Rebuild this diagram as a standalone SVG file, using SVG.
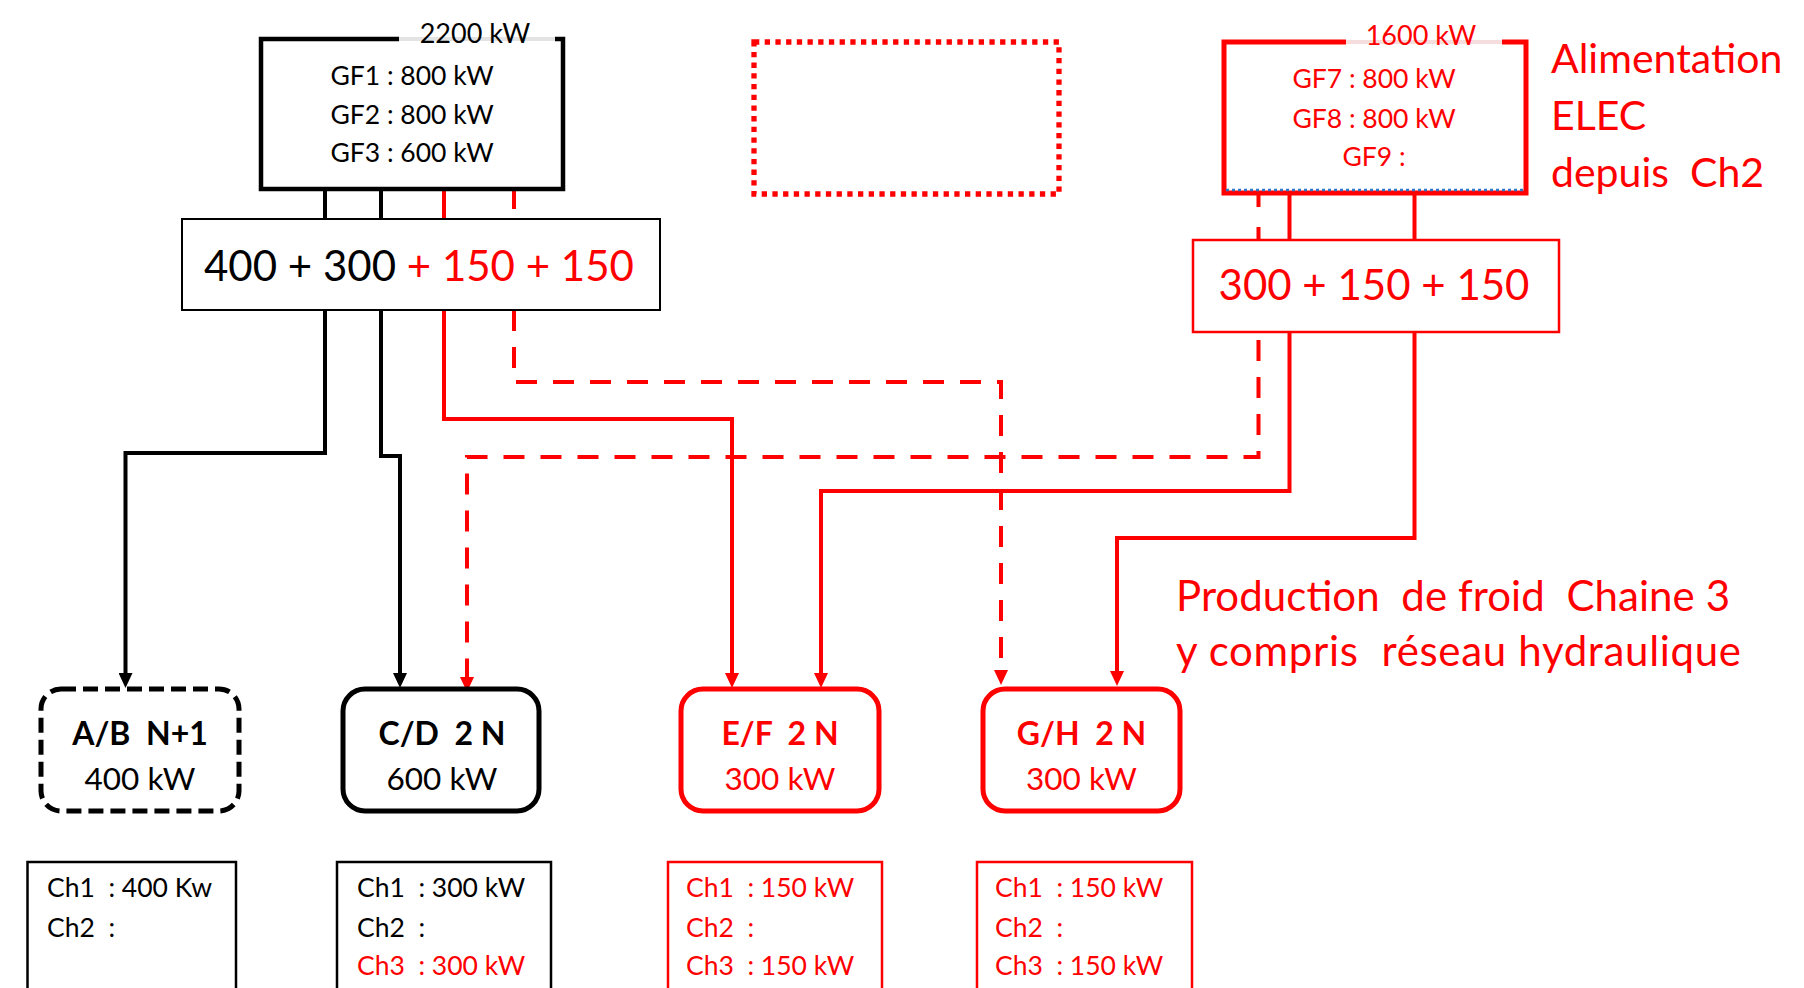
<svg xmlns="http://www.w3.org/2000/svg" width="1804" height="988" viewBox="0 0 1804 988">
<style>
text { font-family: Lato, "Liberation Sans", sans-serif; }
.k { fill: #000000; }
.r { fill: #ff0000; }
.b { font-weight: bold; }
.ln { fill: none; stroke-linejoin: miter; }
.lk { stroke: #000000; stroke-width: 4; }
.lr { stroke: #ff0000; stroke-width: 4; }
.dash { stroke-dasharray: 21 16; }
</style>
<defs>
<marker id="ak" viewBox="0 0 15 14" refX="1" refY="7" markerWidth="15" markerHeight="14" markerUnits="userSpaceOnUse" orient="auto">
<path d="M0,0 L15,7 L0,14 z" fill="#000000"/>
</marker>
<marker id="ar" viewBox="0 0 15 14" refX="1" refY="7" markerWidth="15" markerHeight="14" markerUnits="userSpaceOnUse" orient="auto">
<path d="M0,0 L15,7 L0,14 z" fill="#ff0000"/>
</marker>
</defs>
<rect width="1804" height="988" fill="#ffffff"/>

<g id="connectors">
<line class="ln lk" x1="325" y1="189" x2="325" y2="219"/>
<line class="ln lk" x1="381" y1="189" x2="381" y2="219"/>
<line class="ln lr" x1="444" y1="189" x2="444" y2="219"/>
<line class="ln lr" x1="514" y1="189" x2="514" y2="209"/>
<path class="ln lk" d="M325,310 V453 H125.5 V674" marker-end="url(#ak)"/>
<path class="ln lk" d="M381,310 V456 H400 V674" marker-end="url(#ak)"/>
<path class="ln lr" d="M444,310 V419 H732 V674" marker-end="url(#ar)"/>
<path class="ln lr dash" d="M514,310 V382 H1001 V671" marker-end="url(#ar)"/>
<path class="ln lr" d="M1258.5,193 V207 M1258.5,227 V240"/>
<line class="ln lr" x1="1289.5" y1="193" x2="1289.5" y2="240"/>
<line class="ln lr" x1="1414.5" y1="193" x2="1414.5" y2="240"/>
<path class="ln lr dash" d="M1258.5,340 V457 H467 V678" marker-end="url(#ar)"/>
<path class="ln lr" d="M1289.5,332 V491 H821 V674" marker-end="url(#ar)"/>
<path class="ln lr" d="M1414.5,332 V538 H1117 V672" marker-end="url(#ar)"/>
</g>

<g id="gf-left">
<line x1="399" y1="39" x2="555" y2="39" stroke="#e3e3e3" stroke-width="4"/>
<path d="M399,39 H261 V189 H563 V39 H555" fill="none" stroke="#000000" stroke-width="4.5"/>
<text class="k" x="475" y="43" font-size="27" text-anchor="middle">2200 kW</text>
<text class="k" x="412" y="85" font-size="26.5" text-anchor="middle">GF1 : 800 kW</text>
<text class="k" x="412" y="124" font-size="26.5" text-anchor="middle">GF2 : 800 kW</text>
<text class="k" x="412" y="162" font-size="26.5" text-anchor="middle">GF3 : 600 kW</text>
</g>

<g id="split-left">
<rect x="182" y="219" width="478" height="91" fill="#ffffff" stroke="#000000" stroke-width="2"/>
<text x="204" y="281" font-size="42"><tspan class="k">400 + 300</tspan><tspan class="r"> + 150 + 150</tspan></text>
</g>

<g id="placeholder">
<rect x="754" y="42" width="305" height="152" fill="none" stroke="#ff0000" stroke-width="5.3" stroke-dasharray="5.3 5.4"/>
</g>

<g id="gf-right">
<line x1="1346" y1="42" x2="1502" y2="42" stroke="#f7dede" stroke-width="4"/>
<path d="M1346,42 H1224 V193 H1526 V42 H1502" fill="none" stroke="#ff0000" stroke-width="5"/>
<line x1="1226" y1="190" x2="1524" y2="190" stroke="#2f75c8" stroke-width="2.5" stroke-dasharray="3 3"/>
<text class="r" x="1421" y="45" font-size="27" text-anchor="middle">1600 kW</text>
<text class="r" x="1374" y="88" font-size="26.5" text-anchor="middle">GF7 : 800 kW</text>
<text class="r" x="1374" y="128" font-size="26.5" text-anchor="middle">GF8 : 800 kW</text>
<text class="r" x="1374" y="166" font-size="26.5" text-anchor="middle">GF9 :</text>
</g>

<g id="split-right">
<rect x="1193" y="240" width="366" height="92" fill="#ffffff" stroke="#ff0000" stroke-width="2.5"/>
<text class="r" x="1374" y="300" font-size="42" text-anchor="middle">300 + 150 + 150</text>
</g>

<g id="label-alim">
<text class="r" x="1551" y="73" font-size="41">Alimentation</text>
<text class="r" x="1551" y="130" font-size="41">ELEC</text>
<text class="r" x="1551" y="187" font-size="41" xml:space="preserve">depuis  Ch2</text>
</g>

<g id="label-prod">
<text class="r" x="1176" y="611" font-size="42" textLength="554" lengthAdjust="spacing" xml:space="preserve">Production  de froid  Chaine 3</text>
<text class="r" x="1176" y="666" font-size="42" textLength="565" lengthAdjust="spacing" xml:space="preserve">y compris  réseau hydraulique</text>
</g>

<g id="node-ab">
<rect x="41" y="689" width="198" height="122" rx="20" fill="#ffffff" stroke="#000000" stroke-width="5" stroke-dasharray="15 7"/>
<text class="k b" x="140" y="745" font-size="32" text-anchor="middle" xml:space="preserve">A/B  N+1</text>
<text class="k" x="140" y="790" font-size="31.5" text-anchor="middle">400 kW</text>
</g>

<g id="node-cd">
<rect x="343" y="689" width="196" height="122" rx="22" fill="#ffffff" stroke="#000000" stroke-width="5"/>
<text class="k b" x="442" y="745" font-size="32" text-anchor="middle" xml:space="preserve">C/D  2 N</text>
<text class="k" x="442" y="790" font-size="31.5" text-anchor="middle">600 kW</text>
</g>

<g id="node-ef">
<rect x="681" y="689" width="198" height="122" rx="22" fill="#ffffff" stroke="#ff0000" stroke-width="5"/>
<text class="r b" x="780" y="745" font-size="32" text-anchor="middle" xml:space="preserve">E/F  2 N</text>
<text class="r" x="780" y="790" font-size="31.5" text-anchor="middle">300 kW</text>
</g>

<g id="node-gh">
<rect x="983" y="689" width="197" height="122" rx="22" fill="#ffffff" stroke="#ff0000" stroke-width="5"/>
<text class="r b" x="1081.5" y="745" font-size="32" text-anchor="middle" xml:space="preserve">G/H  2 N</text>
<text class="r" x="1081.5" y="790" font-size="31.5" text-anchor="middle">300 kW</text>
</g>

<g id="info-ab">
<rect x="27.5" y="862" width="208.5" height="140" fill="#ffffff" stroke="#000000" stroke-width="2.5"/>
<text class="k" x="47" y="897" font-size="26.5" xml:space="preserve">Ch1  : 400 Kw</text>
<text class="k" x="47" y="937" font-size="26.5" xml:space="preserve">Ch2  :</text>
</g>

<g id="info-cd">
<rect x="337" y="862" width="214" height="140" fill="#ffffff" stroke="#000000" stroke-width="2.5"/>
<text class="k" x="357" y="897" font-size="26.5" xml:space="preserve">Ch1  : 300 kW</text>
<text class="k" x="357" y="937" font-size="26.5" xml:space="preserve">Ch2  :</text>
<text class="r" x="357" y="975" font-size="26.5" xml:space="preserve">Ch3  : 300 kW</text>
</g>

<g id="info-ef">
<rect x="668" y="862" width="214" height="140" fill="#ffffff" stroke="#ff0000" stroke-width="2.5"/>
<text class="r" x="686" y="897" font-size="26.5" xml:space="preserve">Ch1  : 150 kW</text>
<text class="r" x="686" y="937" font-size="26.5" xml:space="preserve">Ch2  :</text>
<text class="r" x="686" y="975" font-size="26.5" xml:space="preserve">Ch3  : 150 kW</text>
</g>

<g id="info-gh">
<rect x="977" y="862" width="215" height="140" fill="#ffffff" stroke="#ff0000" stroke-width="2.5"/>
<text class="r" x="995" y="897" font-size="26.5" xml:space="preserve">Ch1  : 150 kW</text>
<text class="r" x="995" y="937" font-size="26.5" xml:space="preserve">Ch2  :</text>
<text class="r" x="995" y="975" font-size="26.5" xml:space="preserve">Ch3  : 150 kW</text>
</g>
</svg>
